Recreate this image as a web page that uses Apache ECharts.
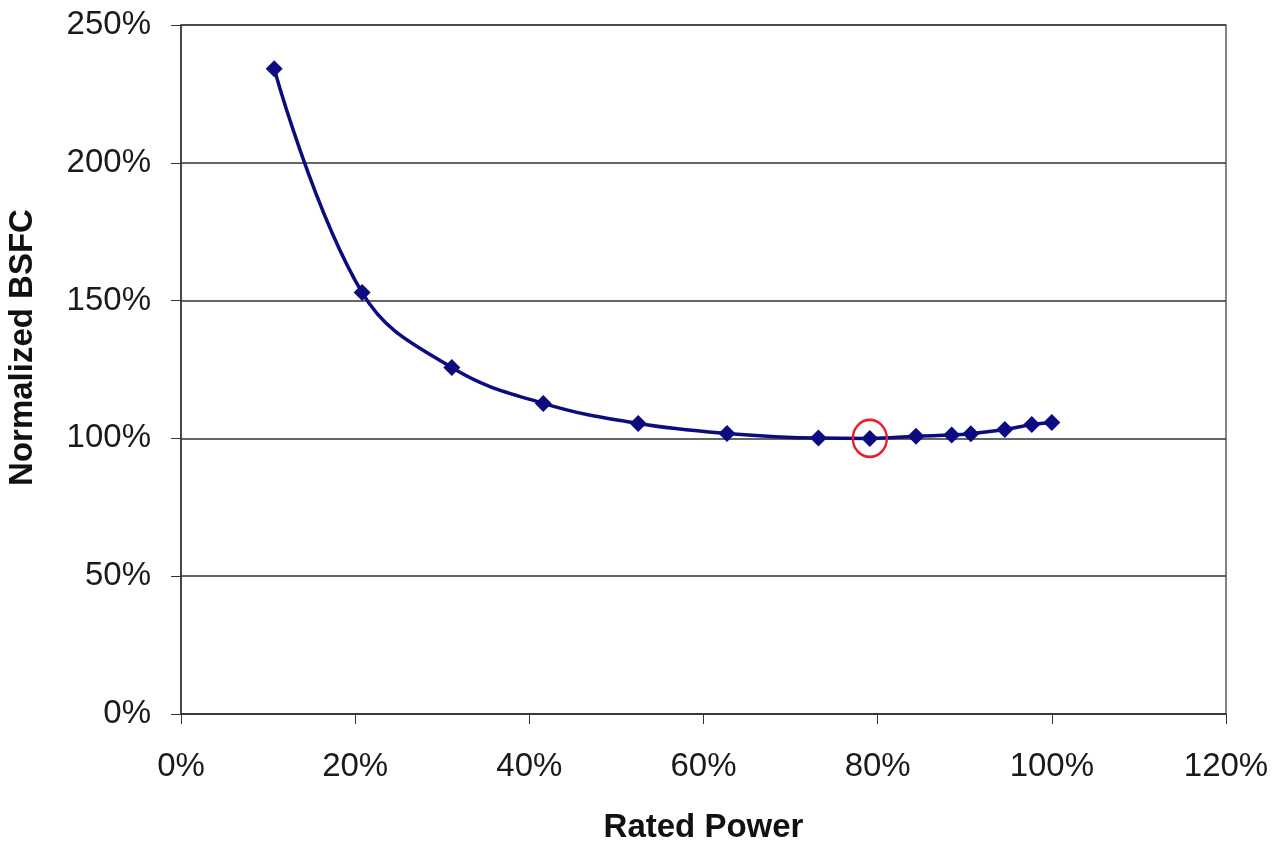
<!DOCTYPE html>
<html>
<head>
<meta charset="utf-8">
<script src="https://cdn.jsdelivr.net/npm/echarts@6/dist/echarts.min.js"></script>
<style>
html,body{margin:0;padding:0;background:#fff;}
#chart{width:1288px;height:844px;}
</style>
</head>
<body>
<div id="chart"></div>
<script>
// Rated power (%) and normalized BSFC (%)
var ratedPower = [10.7, 20.8, 31.1, 41.6, 52.5, 62.7, 73.2, 79.1, 84.4, 88.5, 90.7, 94.6, 97.7, 100.0];
var bsfc = [234.1, 152.9, 125.7, 112.7, 105.4, 101.8, 100.1, 100.0, 100.8, 101.2, 101.7, 103.2, 105.0, 105.8];
var highlightIndex = 7;
var xTicks = [0, 20, 40, 60, 80, 100, 120];
var yTicks = [0, 50, 100, 150, 200, 250];

var pts = ratedPower.map(function (x, i) { return [x, bsfc[i]]; });
var font = '"Liberation Sans", Arial, sans-serif';

var chart = echarts.init(document.getElementById('chart'));
chart.setOption({
  backgroundColor: '#fff',
  animation: false,
  grid: { left: 181, right: 62, top: 25, bottom: 130, containLabel: false, outerBoundsMode: 'none',
          show: true, borderColor: '#333', borderWidth: 1.2 },
  xAxis: {
    type: 'value', min: xTicks[0], max: xTicks[xTicks.length - 1], interval: 20,
    name: 'Rated Power', nameLocation: 'middle', nameGap: 97,
    nameTextStyle: { fontFamily: font, fontSize: 33, fontWeight: 'bold', color: '#111' },
    axisLine: { show: true, lineStyle: { color: '#333', width: 1.5 } },
    axisTick: { show: true, length: 10, lineStyle: { color: '#333' } },
    axisLabel: { margin: 36, fontFamily: font, fontSize: 33, color: '#1a1a1a', formatter: function (v) { return v + '%'; } },
    splitLine: { show: false }
  },
  yAxis: {
    type: 'value', min: yTicks[0], max: yTicks[yTicks.length - 1], interval: 50,
    name: 'Normalized BSFC', nameLocation: 'middle', nameGap: 142, nameRotate: 90,
    nameTextStyle: { fontFamily: font, fontSize: 33, fontWeight: 'bold', color: '#111', padding: [0, 0, 0, 44] },
    axisLine: { show: true, lineStyle: { color: '#333', width: 1.5 } },
    axisTick: { show: true, length: 10, lineStyle: { color: '#333' } },
    axisLabel: { margin: 30, fontFamily: font, fontSize: 33, color: '#1a1a1a', formatter: function (v) { return v + '%'; } },
    splitLine: { show: true, lineStyle: { color: '#333', width: 1.5 } }
  },
  series: [{
    type: 'line',
    data: pts,
    smooth: 0.4,
    symbol: 'diamond',
    symbolSize: 17,
    lineStyle: { color: '#0c0c80', width: 3.5 },
    itemStyle: { color: '#0c0c80' },
    markPoint: {
      symbol: 'circle',
      symbolSize: [34, 37],
      label: { show: false },
      itemStyle: { color: 'rgba(0,0,0,0)', borderColor: '#e8202a', borderWidth: 2.5 },
      data: [{ coord: pts[highlightIndex] }]
    }
  }]
});
</script>
</body>
</html>
